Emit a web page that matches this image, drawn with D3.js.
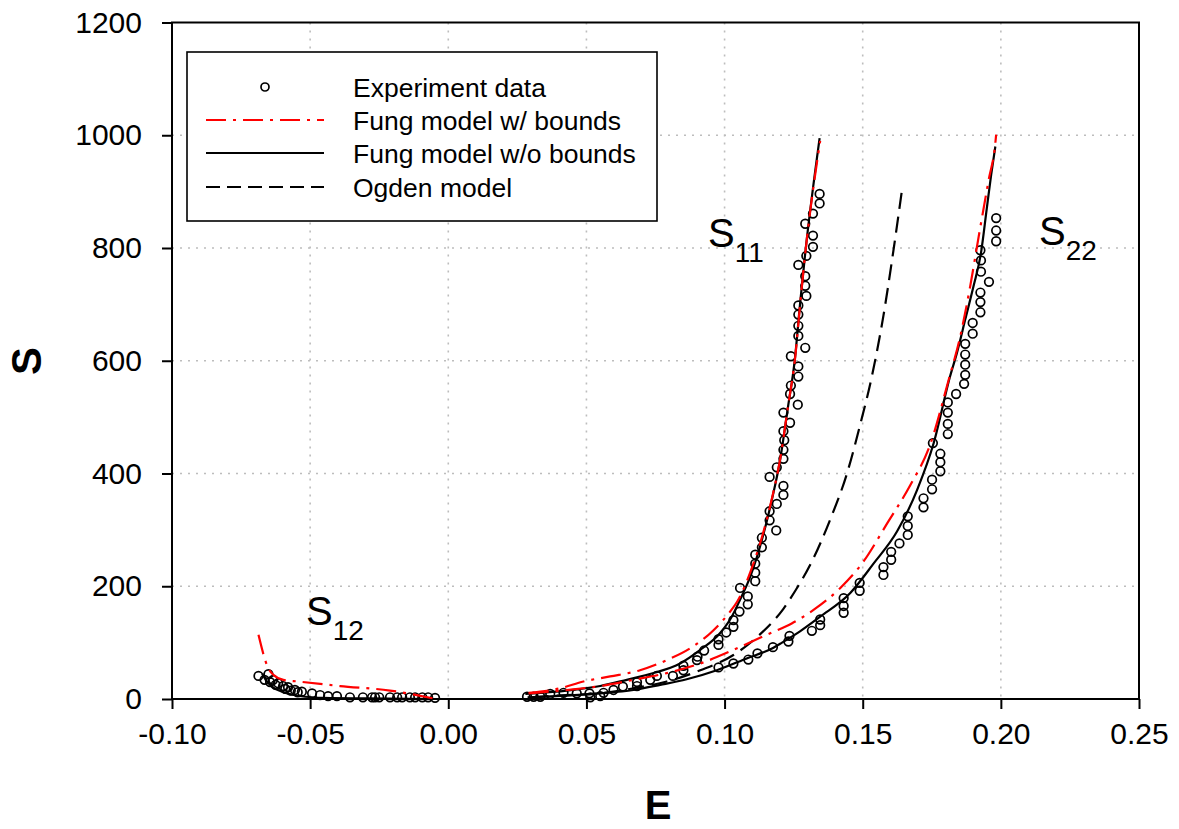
<!DOCTYPE html>
<html>
<head>
<meta charset="utf-8">
<script src="https://cdn.jsdelivr.net/npm/d3@7"></script>
<style>
  body { margin: 0; background: #fff; }
  svg { display: block; }
  text { font-family: "Liberation Sans", Arial, Helvetica, sans-serif; fill: #000; }
</style>
</head>
<body>
<svg id="chart" width="1179" height="829"></svg>
<script>
// ---------------- DATA ----------------
const xTicks = [-0.10, -0.05, 0.00, 0.05, 0.10, 0.15, 0.20, 0.25];
const yTicks = [0, 200, 400, 600, 800, 1000, 1200];
const legendLabels = ["Experiment data", "Fung model w/ bounds", "Fung model w/o bounds", "Ogden model"];

// Experiment data [E, S]
const expS12 = [[-0.0687,41],[-0.0651,44],[-0.0665,34],[-0.0645,30],[-0.0634,34],[-0.0625,25],[-0.0616,28],
  [-0.0598,23],[-0.0590,18],[-0.0580,21],[-0.0570,15],[-0.0555,16],[-0.0545,12],[-0.0530,13],[-0.0493,10],
  [-0.0464,7],[-0.0435,5],[-0.0403,5],[-0.0356,3],[-0.0309,3],[-0.0276,3],[-0.0265,3],[-0.0250,3],
  [-0.0211,3],[-0.0185,3],[-0.0167,3],[-0.0139,3],[-0.0120,3],[-0.0094,3],[-0.0073,3],[-0.0048,2]];

const expS11 = [[0.0285,4],[0.0309,4],[0.0333,4],[0.0369,9],[0.0417,11],[0.0465,10],[0.0511,10],[0.0514,3],
  [0.0550,5],[0.0562,11],[0.0598,16],[0.0632,22],[0.0683,23],[0.0683,30],[0.0731,34],[0.0755,41],[0.0813,41],
  [0.0851,51],[0.0851,59],[0.0900,69],[0.0902,75],[0.0926,86],[0.0978,96],[0.0978,106],[0.1006,118],
  [0.1032,128],[0.1032,140],[0.1054,155],[0.1084,168],[0.1084,182],[0.1056,197],[0.1111,209],[0.1111,224],
  [0.1111,240],[0.1111,256],[0.1135,269],[0.1135,286],[0.1187,299],[0.1163,317],[0.1163,333],[0.1189,346],
  [0.1213,362],[0.1213,378],[0.1163,394],[0.1189,411],[0.1213,426],[0.1213,442],[0.1216,459],[0.1213,475],
  [0.1237,490],[0.1213,508],[0.1265,522],[0.1237,541],[0.1240,556],[0.1267,572],[0.1267,590],[0.1240,608],
  [0.1292,623],[0.1267,644],[0.1267,662],[0.1267,682],[0.1267,698],[0.1296,715],[0.1292,733],[0.1292,750],
  [0.1267,770],[0.1296,786],[0.1320,802],[0.1320,822],[0.1292,843],[0.1320,861],[0.1344,879],[0.1344,896]];

const expS22 = [[0.0978,56],[0.1032,63],[0.1086,70],[0.1119,81],[0.1175,92],[0.1231,102],[0.1235,112],
  [0.1316,121],[0.1346,131],[0.1346,141],[0.1431,153],[0.1431,165],[0.1431,179],[0.1489,192],[0.1489,206],
  [0.1575,220],[0.1575,234],[0.1603,247],[0.1603,261],[0.1633,276],[0.1663,291],[0.1663,307],[0.1663,324],
  [0.1720,340],[0.1720,356],[0.1751,372],[0.1751,389],[0.1781,404],[0.1781,420],[0.1781,435],[0.1754,454],
  [0.1808,470],[0.1808,488],[0.1808,508],[0.1808,526],[0.1838,541],[0.1867,559],[0.1871,575],[0.1871,593],
  [0.1871,611],[0.1871,630],[0.1898,648],[0.1898,667],[0.1926,686],[0.1926,704],[0.1926,721],[0.1957,740],
  [0.1928,758],[0.1928,778],[0.1926,796],[0.1983,812],[0.1983,831],[0.1983,853]];

// Fung model with bounds (red dash-dot)
const fungBS12 = [[-0.0687,114],[-0.0651,54],[-0.0633,43],[-0.0597,34],[-0.0543,31],[-0.0392,23],[-0.0211,15],[-0.0054,1]];
const fungBS11 = [[0.0291,11],[0.0405,19],[0.0489,31],[0.0586,40],[0.0694,51],[0.0791,69],[0.0876,90],[0.0960,122],
  [0.1020,155],[0.1046,173],[0.1105,241],[0.1137,290],[0.1172,357],[0.1202,428],[0.1229,517],[0.1256,608],
  [0.1274,703],[0.1293,795],[0.1346,990]];
const fungBS22 = [[0.0291,10],[0.0429,16],[0.0550,23],[0.0670,34],[0.0791,46],[0.0912,63],[0.1032,87],[0.1153,114],
  [0.1243,134],[0.1322,158],[0.1419,197],[0.1503,244],[0.1589,312],[0.1673,380],[0.1744,451],[0.1811,566],
  [0.1853,643],[0.1889,732],[0.1920,821],[0.1956,921],[0.1980,986],[0.1983,1001]];

// Fung model without bounds (black solid)
const fungS12 = [[-0.0673,45],[-0.0658,32],[-0.0638,22],[-0.0608,14],[-0.0568,8],[-0.0518,4],[-0.0448,2],[-0.0297,1],[-0.0048,0]];
const fungS11 = [[0.0279,9],[0.0309,10],[0.0429,15],[0.0550,23],[0.0646,34],[0.0743,46],[0.0839,63],[0.0912,87],
  [0.0984,117],[0.1026,146],[0.1056,176],[0.1093,217],[0.1135,282],[0.1171,353],[0.1201,424],[0.1228,513],
  [0.1255,605],[0.1273,700],[0.1292,791],[0.1344,995]];
const fungS22 = [[0.0287,3],[0.0550,10],[0.0670,16],[0.0767,25],[0.0863,35],[0.0972,51],[0.1080,72],[0.1177,91],
  [0.1201,98],[0.1273,120],[0.1346,146],[0.1455,188],[0.1539,240],[0.1624,297],[0.1697,371],[0.1757,454],
  [0.1816,572],[0.1841,614],[0.1871,673],[0.1901,732],[0.1928,791],[0.1949,870],[0.1965,930],[0.1980,980]];

// Ogden model (black dashed)
const ogden = [[0.0305,3],[0.0429,7],[0.0550,10],[0.0670,19],[0.0791,31],[0.0912,51],[0.1032,78],[0.1129,115],
  [0.1213,160],[0.1261,196],[0.1310,238],[0.1382,318],[0.1443,400],[0.1491,487],[0.1533,572],[0.1575,680],
  [0.1611,795],[0.1641,899]];

// ---------------- CHART ----------------
const svg = d3.select("#chart");
const pLeft = 172, pRight = 1139, pTop = 22.5, pBottom = 699;
const x = d3.scaleLinear().domain([-0.10, 0.25]).range([pLeft, pRight]);
const y = d3.scaleLinear().domain([0, 1200]).range([pBottom, pTop]);

// gridlines
const grid = svg.append("g").attr("stroke", "#bdbdbd").attr("stroke-width", 1.6).attr("stroke-dasharray", "2,6");
xTicks.slice(1, -1).forEach(v => grid.append("line").attr("x1", x(v)).attr("x2", x(v)).attr("y1", y(1200)).attr("y2", y(0)));
yTicks.slice(1, -1).forEach(v => grid.append("line").attr("x1", x(-0.10)).attr("x2", x(0.25)).attr("y1", y(v)).attr("y2", y(v)));

// axes
const fmtX = d => d3.format(".2f")(d).replace("\u2212", "-");
const xAxis = svg.append("g").attr("transform", `translate(0,${pBottom})`)
  .call(d3.axisBottom(x).tickValues(xTicks).tickSize(10).tickPadding(14).tickFormat(fmtX));
const yAxis = svg.append("g").attr("transform", `translate(${pLeft},0)`)
  .call(d3.axisLeft(y).tickValues(yTicks).tickSize(10).tickPadding(20).tickFormat(d3.format("d")));
[xAxis, yAxis].forEach(a => {
  a.select(".domain").remove();
  a.selectAll(".tick line").attr("stroke", "#000").attr("stroke-width", 2);
  a.selectAll(".tick text").attr("font-size", 30).attr("fill", "#000")
    .style("font-family", '"Liberation Sans", Arial, sans-serif');
});
xAxis.selectAll(".tick text").attr("dy", "0.71em");

// frame
svg.append("rect").attr("x", pLeft).attr("y", pTop).attr("width", pRight - pLeft).attr("height", pBottom - pTop)
  .attr("fill", "none").attr("stroke", "#000").attr("stroke-width", 2);

// axis titles
svg.append("text").attr("x", 658).attr("y", 819).attr("text-anchor", "middle")
  .attr("font-size", 40).attr("font-weight", "bold").text("E");
svg.append("text").attr("transform", "translate(41,361) rotate(-90)").attr("text-anchor", "middle")
  .attr("font-size", 42).attr("font-weight", "bold").text("S");

// experiment circles
const plot = svg.append("g");
[expS12, expS11, expS22].forEach(arr => {
  plot.selectAll(null).data(arr).enter().append("circle")
    .attr("cx", d => x(d[0])).attr("cy", d => y(d[1])).attr("r", 4.3)
    .attr("fill", "none").attr("stroke", "#000").attr("stroke-width", 1.7);
});

// model lines
const line = d3.line().x(d => x(d[0])).y(d => y(d[1])).curve(d3.curveMonotoneX);
const styles = {
  fungB: { stroke: "#ff0000", dash: "20,7,3,7", width: 2.2 },
  fung: { stroke: "#000", dash: null, width: 2.2 },
  ogden: { stroke: "#000", dash: "16,8", width: 2.2 }
};
function drawLine(data, st) {
  plot.append("path").datum(data).attr("d", line).attr("fill", "none")
    .attr("stroke", st.stroke).attr("stroke-width", st.width)
    .attr("stroke-dasharray", st.dash);
}
drawLine(ogden, styles.ogden);
[fungS12, fungS11, fungS22].forEach(d => drawLine(d, styles.fung));
[fungBS12, fungBS11, fungBS22].forEach(d => drawLine(d, styles.fungB));

// curve labels
function subLabel(xp, yp, main, sub) {
  const t = svg.append("text").attr("x", xp).attr("y", yp).attr("font-size", 40);
  t.append("tspan").text(main);
  t.append("tspan").attr("font-size", 28).attr("dy", 15).text(sub);
}
subLabel(708, 247, "S", "11");
subLabel(306, 625, "S", "12");
subLabel(1039, 245, "S", "22");

// legend
const lg = svg.append("g");
lg.append("rect").attr("x", 187).attr("y", 52).attr("width", 470).attr("height", 169)
  .attr("fill", "#fff").attr("stroke", "#000").attr("stroke-width", 1.6);
const rowsY = [87, 120, 153, 187];
lg.append("circle").attr("cx", 265).attr("cy", rowsY[0]).attr("r", 4).attr("fill", "none")
  .attr("stroke", "#000").attr("stroke-width", 1.7);
[styles.fungB, styles.fung, styles.ogden].forEach((st, i) => {
  lg.append("line").attr("x1", 206).attr("x2", 324).attr("y1", rowsY[i + 1]).attr("y2", rowsY[i + 1])
    .attr("stroke", st.stroke).attr("stroke-width", 2).attr("stroke-dasharray", i === 2 ? "14,7" : st.dash);
});
legendLabels.forEach((l, i) => {
  lg.append("text").attr("x", 353).attr("y", rowsY[i]).attr("dy", "0.36em").attr("font-size", 26.5).text(l);
});
</script>
</body>
</html>
